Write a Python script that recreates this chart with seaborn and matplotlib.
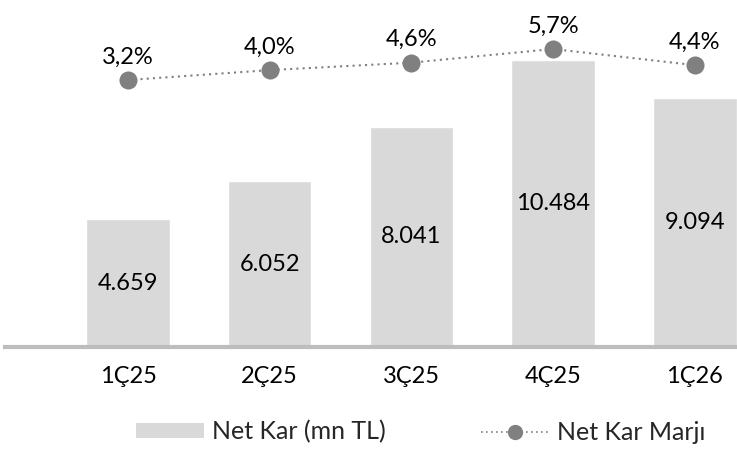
import matplotlib
matplotlib.use("Agg")
import matplotlib.pyplot as plt
import numpy as np
import pandas as pd
import seaborn as sns
from matplotlib.lines import Line2D
from matplotlib.patches import Patch

quarters = ["1Ç25", "2Ç25", "3Ç25", "4Ç25", "1Ç26"]
net_profit = [4659, 6052, 8041, 10484, 9094]
net_margin = [3.2, 4.0, 4.6, 5.7, 4.4]
profit_labels = ["4.659", "6.052", "8.041", "10.484", "9.094"]
margin_labels = ["3,2%", "4,0%", "4,6%", "5,7%", "4,4%"]

sns.set_theme(style="white")
plt.rcParams["font.family"] = ["Lato", "DejaVu Sans"]

df = pd.DataFrame({"Quarter": quarters, "Profit": net_profit, "Margin": net_margin})

fig = plt.figure(figsize=(7.37, 4.5), dpi=100)
ax = fig.add_axes([5 / 737, 103 / 450, 732 / 737, 327 / 450])

sns.barplot(data=df, x="Quarter", y="Profit", color="#d9d9d9", saturation=1,
            width=0.59, ax=ax)
ax.set_xlim(-0.868, 4.298)
ax.set_ylim(0, 11936)
for i, (v, lab) in enumerate(zip(net_profit, profit_labels)):
    ax.text(i, v / 2, lab, ha="center", va="center", fontsize=17, color="black")

ax.set_xlabel("")
ax.set_ylabel("")
ax.set_yticks([])
ax.tick_params(axis="x", length=0, labelsize=17, pad=14, colors="black")
for s in ["top", "right", "left"]:
    ax.spines[s].set_visible(False)
ax.spines["bottom"].set_color("#bdbdbd")
ax.spines["bottom"].set_linewidth(3)

ax2 = ax.twinx()
sns.lineplot(x=np.arange(len(quarters)), y=net_margin, ax=ax2, color="#808080",
             linestyle=(0, (1, 2)), linewidth=1.5, marker="o", markersize=13,
             markeredgewidth=0)
ax2.set_ylim(-18.33, 8.04)
ax2.set_yticks([])
for s in ["top", "right", "left", "bottom"]:
    ax2.spines[s].set_visible(False)
for i, (v, lab) in enumerate(zip(net_margin, margin_labels)):
    ax2.annotate(lab, (i, v), xytext=(0, 12), textcoords="offset points",
                 ha="center", va="baseline", fontsize=17, color="black")

handles = [
    Patch(facecolor="#d9d9d9", edgecolor="none", label="Net Kar (mn TL)"),
    Line2D([0], [0], color="#808080", linestyle=(0, (1, 2)), linewidth=1.2,
           marker="o", markersize=11, markeredgewidth=0, label="Net Kar Marjı"),
]
fig.legend(handles=handles, loc="center", bbox_to_anchor=(0.5706, 0.04), ncol=2,
           frameon=False, fontsize=18, handlelength=2.72, handleheight=0.52,
           handletextpad=0.32, columnspacing=3.8)

fig.savefig("out.png", dpi=100)
plt.close(fig)
